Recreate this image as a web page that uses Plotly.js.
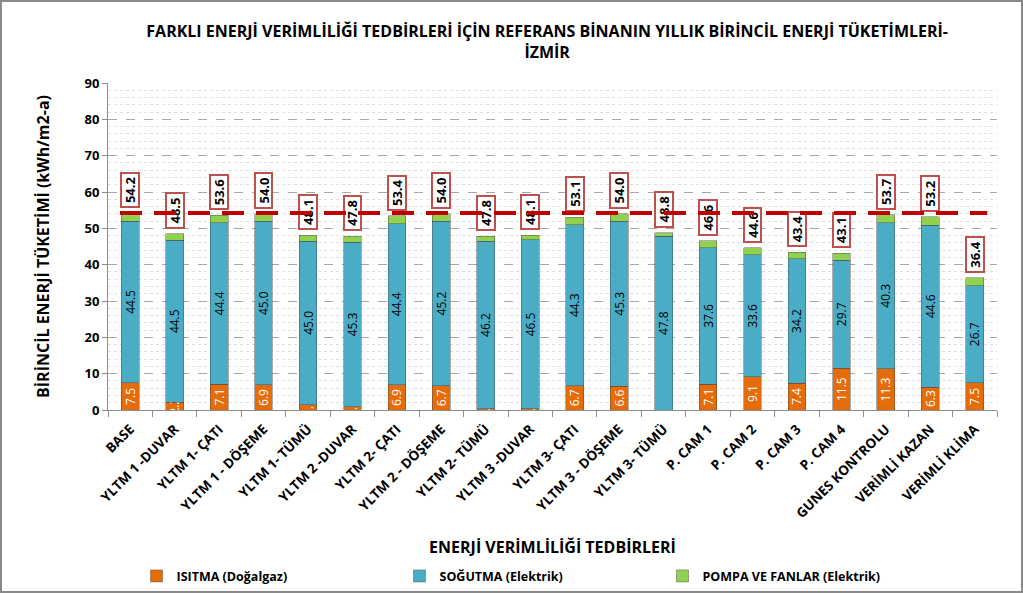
<!DOCTYPE html>
<html>
<head>
<meta charset="utf-8">
<script src="https://cdn.plot.ly/plotly-3.0.1.min.js"></script>
<style>
html,body{margin:0;padding:0;background:#fff;}
#chart{width:1023px;height:593px;box-sizing:border-box;border:2px solid #8a8a8a;}
</style>
</head>
<body>
<div id="chart"></div>
<script>
var categories = ["BASE","YLTM 1 -DUVAR","YLTM 1- ÇATI","YLTM 1 - DÖŞEME","YLTM 1- TÜMÜ","YLTM 2 -DUVAR","YLTM 2- ÇATI","YLTM 2 - DÖŞEME","YLTM 2- TÜMÜ","YLTM 3 -DUVAR","YLTM 3- ÇATI","YLTM 3 - DÖŞEME","YLTM 3- TÜMÜ","P. CAM 1","P. CAM 2","P. CAM 3","P. CAM 4","GUNES KONTROLU","VERİMLİ KAZAN","VERİMLİ KLİMA"];
var heating = [7.5,2.2,7.1,6.9,1.5,0.9,6.9,6.7,0.3,0.3,6.7,6.6,0.0,7.1,9.1,7.4,11.5,11.3,6.3,7.5];
var cooling = [44.5,44.5,44.4,45.0,45.0,45.3,44.4,45.2,46.2,46.5,44.3,45.3,47.8,37.6,33.6,34.2,29.7,40.3,44.6,26.7];
var pumps   = [2.2,1.8,2.1,2.1,1.6,1.6,2.1,2.1,1.3,1.3,2.1,2.1,1.0,1.9,1.9,1.8,1.9,2.1,2.3,2.2];
var totals  = [54.2,48.5,53.6,54.0,48.1,47.8,53.4,54.0,47.8,48.1,53.1,54.0,48.8,46.6,44.6,43.4,43.1,53.7,53.2,36.4];
var referenceLevel = 54.2;
var seriesNames = ["ISITMA (Doğalgaz)","SOĞUTMA (Elektrik)","POMPA VE FANLAR (Elektrik)"];

var FONT = "Open Sans, Calibri, sans-serif";
var edge = {color:"rgba(70,70,70,0.55)", width:0.8};

var tHeat = {type:"bar", name:seriesNames[0], x:categories, y:heating,
  marker:{color:"#E46C0A", line:edge},
  text:heating.map(function(v){return v.toFixed(1);}), textposition:"inside", textangle:-90,
  insidetextanchor:"middle", constraintext:"none",
  insidetextfont:{family:FONT, size:12, color:"#ffffff"}, hoverinfo:"y+name"};
var tCool = {type:"bar", name:seriesNames[1], x:categories, y:cooling,
  marker:{color:"#4BACC6", line:edge},
  text:cooling.map(function(v){return v.toFixed(1);}), textposition:"inside", textangle:-90,
  insidetextanchor:"middle", constraintext:"none",
  insidetextfont:{family:FONT, size:12, color:"#000000"}, hoverinfo:"y+name"};
var tPump = {type:"bar", name:seriesNames[2], x:categories, y:pumps,
  marker:{color:"#92D050", line:edge},
  textposition:"none", hoverinfo:"y+name"};

// total label boxes: a transparent gap then a white red-bordered box, stacked above each bar
var GAP_UNITS = 1.7, BOX_UNITS = 9.4;
var tGap = {type:"bar", x:categories, y:categories.map(function(){return GAP_UNITS;}),
  marker:{color:"rgba(0,0,0,0)", line:{width:0}}, showlegend:false, hoverinfo:"skip", textposition:"none"};
var tBox = {type:"bar", x:categories, y:categories.map(function(){return BOX_UNITS;}),
  marker:{color:"#ffffff", line:{color:"#C0504D", width:2}}, showlegend:false, hoverinfo:"skip",
  text:totals.map(function(v){return "<b>"+v.toFixed(1)+"</b>";}), textposition:"inside", textangle:-90,
  insidetextanchor:"middle", constraintext:"none",
  insidetextfont:{family:FONT, size:13, color:"#000000"}};

var shapes = [{type:"line", layer:"above", xref:"paper", yref:"y",
  x0:0.0135, x1:0.989, y0:referenceLevel, y1:referenceLevel,
  line:{color:"#C00000", width:4, dash:"22px,12px"}}];

var layout = {
  width:1019, height:589,
  margin:{l:106, r:24, t:81, b:181},
  paper_bgcolor:"#ffffff", plot_bgcolor:"#ffffff",
  font:{family:FONT, color:"#000000"},
  barmode:"stack", bargap:0.6,
  title:{text:"<b>FARKLI ENERJİ VERİMLİLİĞİ TEDBİRLERİ İÇİN REFERANS BİNANIN YILLIK BİRİNCİL ENERJİ TÜKETİMLERİ-<br>İZMİR</b>",
    font:{family:FONT, size:16, color:"#000"}, x:0.535, xanchor:"center", y:0.94, yanchor:"top"},
  xaxis:{type:"category", tickangle:-45, tickfont:{family:FONT, size:13.5, color:"#000", weight:"bold"},
    showline:true, linecolor:"#8c8c8c", linewidth:1, ticks:"outside", tickson:"boundaries",
    ticklen:6, tickcolor:"#8c8c8c", showgrid:false, automargin:false, ticklabelstandoff:5,
    title:{text:"<b>ENERJİ VERİMLİLİĞİ TEDBİRLERİ</b>", font:{family:FONT, size:16, color:"#000"}, standoff:21}},
  yaxis:{range:[0,90], dtick:10, tickfont:{family:FONT, size:13, color:"#000", weight:"bold"},
    showline:true, linecolor:"#8c8c8c", linewidth:1, ticks:"outside", ticklen:5, tickcolor:"#8c8c8c",
    gridcolor:"#a6a6a6", griddash:"dash", gridwidth:1, zeroline:false,
    minor:{dtick:2, showgrid:true, gridcolor:"#dedede", griddash:"dot", gridwidth:1},
    automargin:false,
    title:{text:"<b>BİRİNCİL ENERJİ TÜKETİMİ (kWh/m2-a)</b>", font:{family:FONT, size:16, color:"#000"}, standoff:30}},
  legend:{orientation:"h", xref:"container", x:0.132, yref:"container", y:0.025, yanchor:"middle",
    entrywidth:218, font:{family:FONT, size:12.5, color:"#000", weight:"bold"}, traceorder:"normal",
    itemwidth:30},
  shapes:shapes,
  showlegend:true
};

Plotly.newPlot("chart", [tHeat, tCool, tPump, tGap, tBox], layout, {displayModeBar:false, staticPlot:true});
</script>
</body>
</html>
